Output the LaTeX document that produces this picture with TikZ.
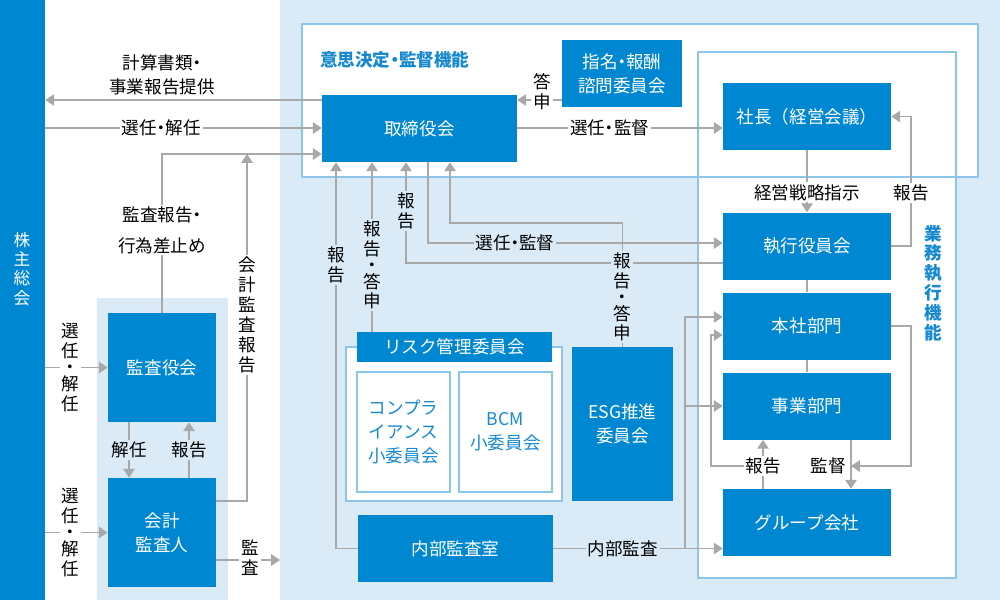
\documentclass[tikz,border=0pt]{standalone}
\usepackage{fontspec}
\setmainfont{Noto Sans CJK JP}
\usetikzlibrary{arrows.meta,calc}
\definecolor{corpblue}{HTML}{0087D2}
\definecolor{paleblue}{HTML}{DAEBF7}
\definecolor{frameblue}{HTML}{8CC7EB}
\definecolor{linegray}{HTML}{A8A8A8}
\definecolor{textblue}{HTML}{1689D1}
\newcommand{\nk}{\makebox[0.5em][c]{・}}

\begin{document}
\begin{tikzpicture}[
    x=0.02cm, y=-0.02cm,
    font=\fontsize{10}{13.6}\selectfont,
    box/.style={rectangle, fill=corpblue, text=white, align=center, inner sep=0pt},
    widebox/.style={box, minimum width=3.9cm, minimum height=1.34cm},
    execbox/.style={box, minimum width=3.36cm, minimum height=1.34cm},
    auditbox/.style={box, minimum width=2.16cm, minimum height=2.18cm},
    subbox/.style={rectangle, draw=frameblue, fill=white, text=textblue, align=center, inner sep=0pt, line width=0.7pt, minimum width=1.86cm, minimum height=2.4cm},
    frame/.style={draw=frameblue, line width=0.7pt},
    arrow/.style={-{Triangle[width=6.5pt,length=5pt]}, linegray, line width=0.9pt},
    link/.style={linegray, line width=0.9pt},
    lab/.style={fill=paleblue, text=black, inner sep=1pt, align=center},
    labw/.style={lab, fill=white},
    vert/.style={font=\fontsize{10}{11.3}\selectfont}
]
    \useasboundingbox (0,0) rectangle (1000,600);

    % backgrounds and frames
    \fill[paleblue] (280,0) rectangle (1000,600);
    \fill[paleblue] (97,298) rectangle (228,600);
    \fill[white] (302,24) rectangle (978,177);
    \fill[white] (698,52) rectangle (956,578);
    \draw[frame] (302,24) rectangle (978,177);
    \draw[frame] (698,52) rectangle (956,578);
    \draw[frame, fill=white] (346,347) rectangle (562,501);

    \node[box, minimum width=0.9cm, minimum height=12cm] (kabu) at (22.5,300) {};
    \node[vert, text=white, align=center, font=\fontsize{9.5}{11}\selectfont] (kabulab) at (22,269) {株\\主\\総\\会};

    \node[text=textblue, anchor=west, font=\fontsize{10}{13.6}\selectfont\bfseries] (kettei) at (314,60) {意思決定\nk 監督機能};
    \node[text=textblue, align=center, font=\fontsize{10}{11.3}\selectfont\bfseries] (gyomu) at (933,283) {業\\務\\執\\行\\機\\能};

    % boxes
    \node[widebox] (tori) at (419.5,128.5) {取締役会};
    \node[box, minimum width=2.4cm, minimum height=1.34cm] (shimei) at (622,73.5) {指名\nk 報酬\\諮問委員会};
    \node[execbox] (shacho) at (807,116.5) {社長（経営会議）};
    \node[execbox] (shikko) at (807,246) {執行役員会};
    \node[execbox] (honsha) at (807,326) {本社部門};
    \node[execbox] (jigyo) at (807,406) {事業部門};
    \node[execbox] (group) at (807,522.5) {グループ会社};
    \node[auditbox] (kansayaku) at (162,367.5) {監査役会};
    \node[auditbox] (kaikei) at (162,532.5) {会計\\監査人};
    \node[widebox] (naibu) at (455.5,548.5) {内部監査室};
    \node[box, minimum width=2.02cm, minimum height=3.08cm] (esg) at (622.5,424) {ESG推進\\委員会};
    \node[box, minimum width=3.9cm, minimum height=0.6cm] (risk) at (454.5,347) {リスク管理委員会};
    \node[subbox] (compl) at (403.5,432) {コンプラ\\イアンス\\小委員会};
    \node[subbox] (bcm) at (505.5,432) {BCM\\小委員会};

    % shareholders and audit side
    \node[labw] (keisan) at (162,75) {計算書類\nk\\事業報告提供};
    \draw[arrow] (tori.west |- 0,100) -- (kabu.east |- 0,100);
    \draw[arrow] (kabu.east |- 0,128) -- node[labw, pos=0.42] {選任\nk 解任} (tori.west |- 0,128);
    \draw[arrow] (kansayaku.north) -- node[labw, pos=0.52, font=\fontsize{10}{17.6}\selectfont] {監査報告\nk\\行為差止め} (kansayaku.north |- 0,154) -- (tori.west |- 0,154);
    \coordinate (kreport) at (247,154);
    \draw[arrow] (kaikei.east |- 0,501) -| (kreport);
    \node[labw, vert] at (247,315) {会\\計\\監\\査\\報\\告};
    \draw[arrow] (kabu.east |- kansayaku.west) -- node[labw, vert, pos=0.4] {選\\任\\[-2pt]・\\[-2pt]解\\任} (kansayaku.west);
    \draw[arrow] (kabu.east |- kaikei.west) -- node[labw, vert, pos=0.4] {選\\任\\[-2pt]・\\[-2pt]解\\任} (kaikei.west);
    \draw[arrow] (kansayaku.south -| 129,0) -- node[lab] {解任} (kaikei.north -| 129,0);
    \draw[arrow] (kaikei.north -| 189,0) -- node[lab] {報告} (kansayaku.south -| 189,0);
    \coordinate (kansaend) at (280,560);
    \draw[arrow] (kaikei.east |- kansaend) -- (kansaend);
    \node[labw, vert] at (250,558) {監\\査};

    % board and executive side
    \draw[arrow] (shimei.west |- 0,100) -- (tori.east |- 0,100);
    \node[labw, vert] at (542,92) {答\\申};
    \draw[arrow] (tori.east |- 0,128) -- node[labw, pos=0.45] {選任\nk 監督} (shacho.west |- 0,128);
    \draw[arrow] (shacho) -- node[labw, pos=0.68] {経営戦略指示} (shikko);
    \coordinate (rr) at (911,0);
    \draw[arrow] (shikko.east) -| (rr |- shacho.east) -- (shacho.east);
    \node[labw] at (911,193) {報告};
    \draw[link] (shikko) -- (honsha);
    \draw[link] (honsha) -- (jigyo);
    \coordinate (kantoku) at (851,466);
    \draw[arrow] (honsha.east) -| (rr |- kantoku) -- (kantoku);
    \draw[arrow] (jigyo.south -| kantoku) -- (group.north -| kantoku);
    \node[labw] at (828,466) {監督};
    \coordinate (hq) at (763,466);
    \coordinate (lq) at (711,466);
    \draw[arrow] (group.north -| hq) -- (jigyo.south -| hq);
    \draw[arrow] (hq) -- (lq) |- ($(honsha.west)+(0,9)$);
    \node[labw] at (hq) {報告};

    % internal audit and committees
    \coordinate (ia) at (685,0);
    \draw[arrow] (naibu.east) -- node[lab, pos=0.41] {内部監査} (group.west |- naibu.east);
    \draw[arrow] (naibu.east -| ia) |- ($(honsha.west)+(0,-9)$);
    \draw[arrow] (jigyo.west -| ia) -- (jigyo.west);
    \draw[arrow] (naibu.west) -| (tori.south -| 336,0);
    \node[lab, vert] at (336,265) {報\\告};
    \draw[arrow] (risk.north -| 372,0) -- (tori.south -| 372,0);
    \node[lab, vert] at (372,265) {報\\告\\[-2pt]・\\[-2pt]答\\申};
    \draw[arrow] ($(shikko.west)+(0,17)$) -| (tori.south -| 406,0);
    \node[lab, vert] at (406,211) {報\\告};
    \draw[arrow] (tori.south -| 428,0) |- ($(shikko.west)+(0,-3)$);
    \node[lab] at (515,243) {選任\nk 監督};
    \draw[arrow] (esg.north) |- (450,223) -- (tori.south -| 450,0);
    \node[lab, vert] at (622,297) {報\\告\\[-2pt]・\\[-2pt]答\\申};
\end{tikzpicture}
\end{document}
